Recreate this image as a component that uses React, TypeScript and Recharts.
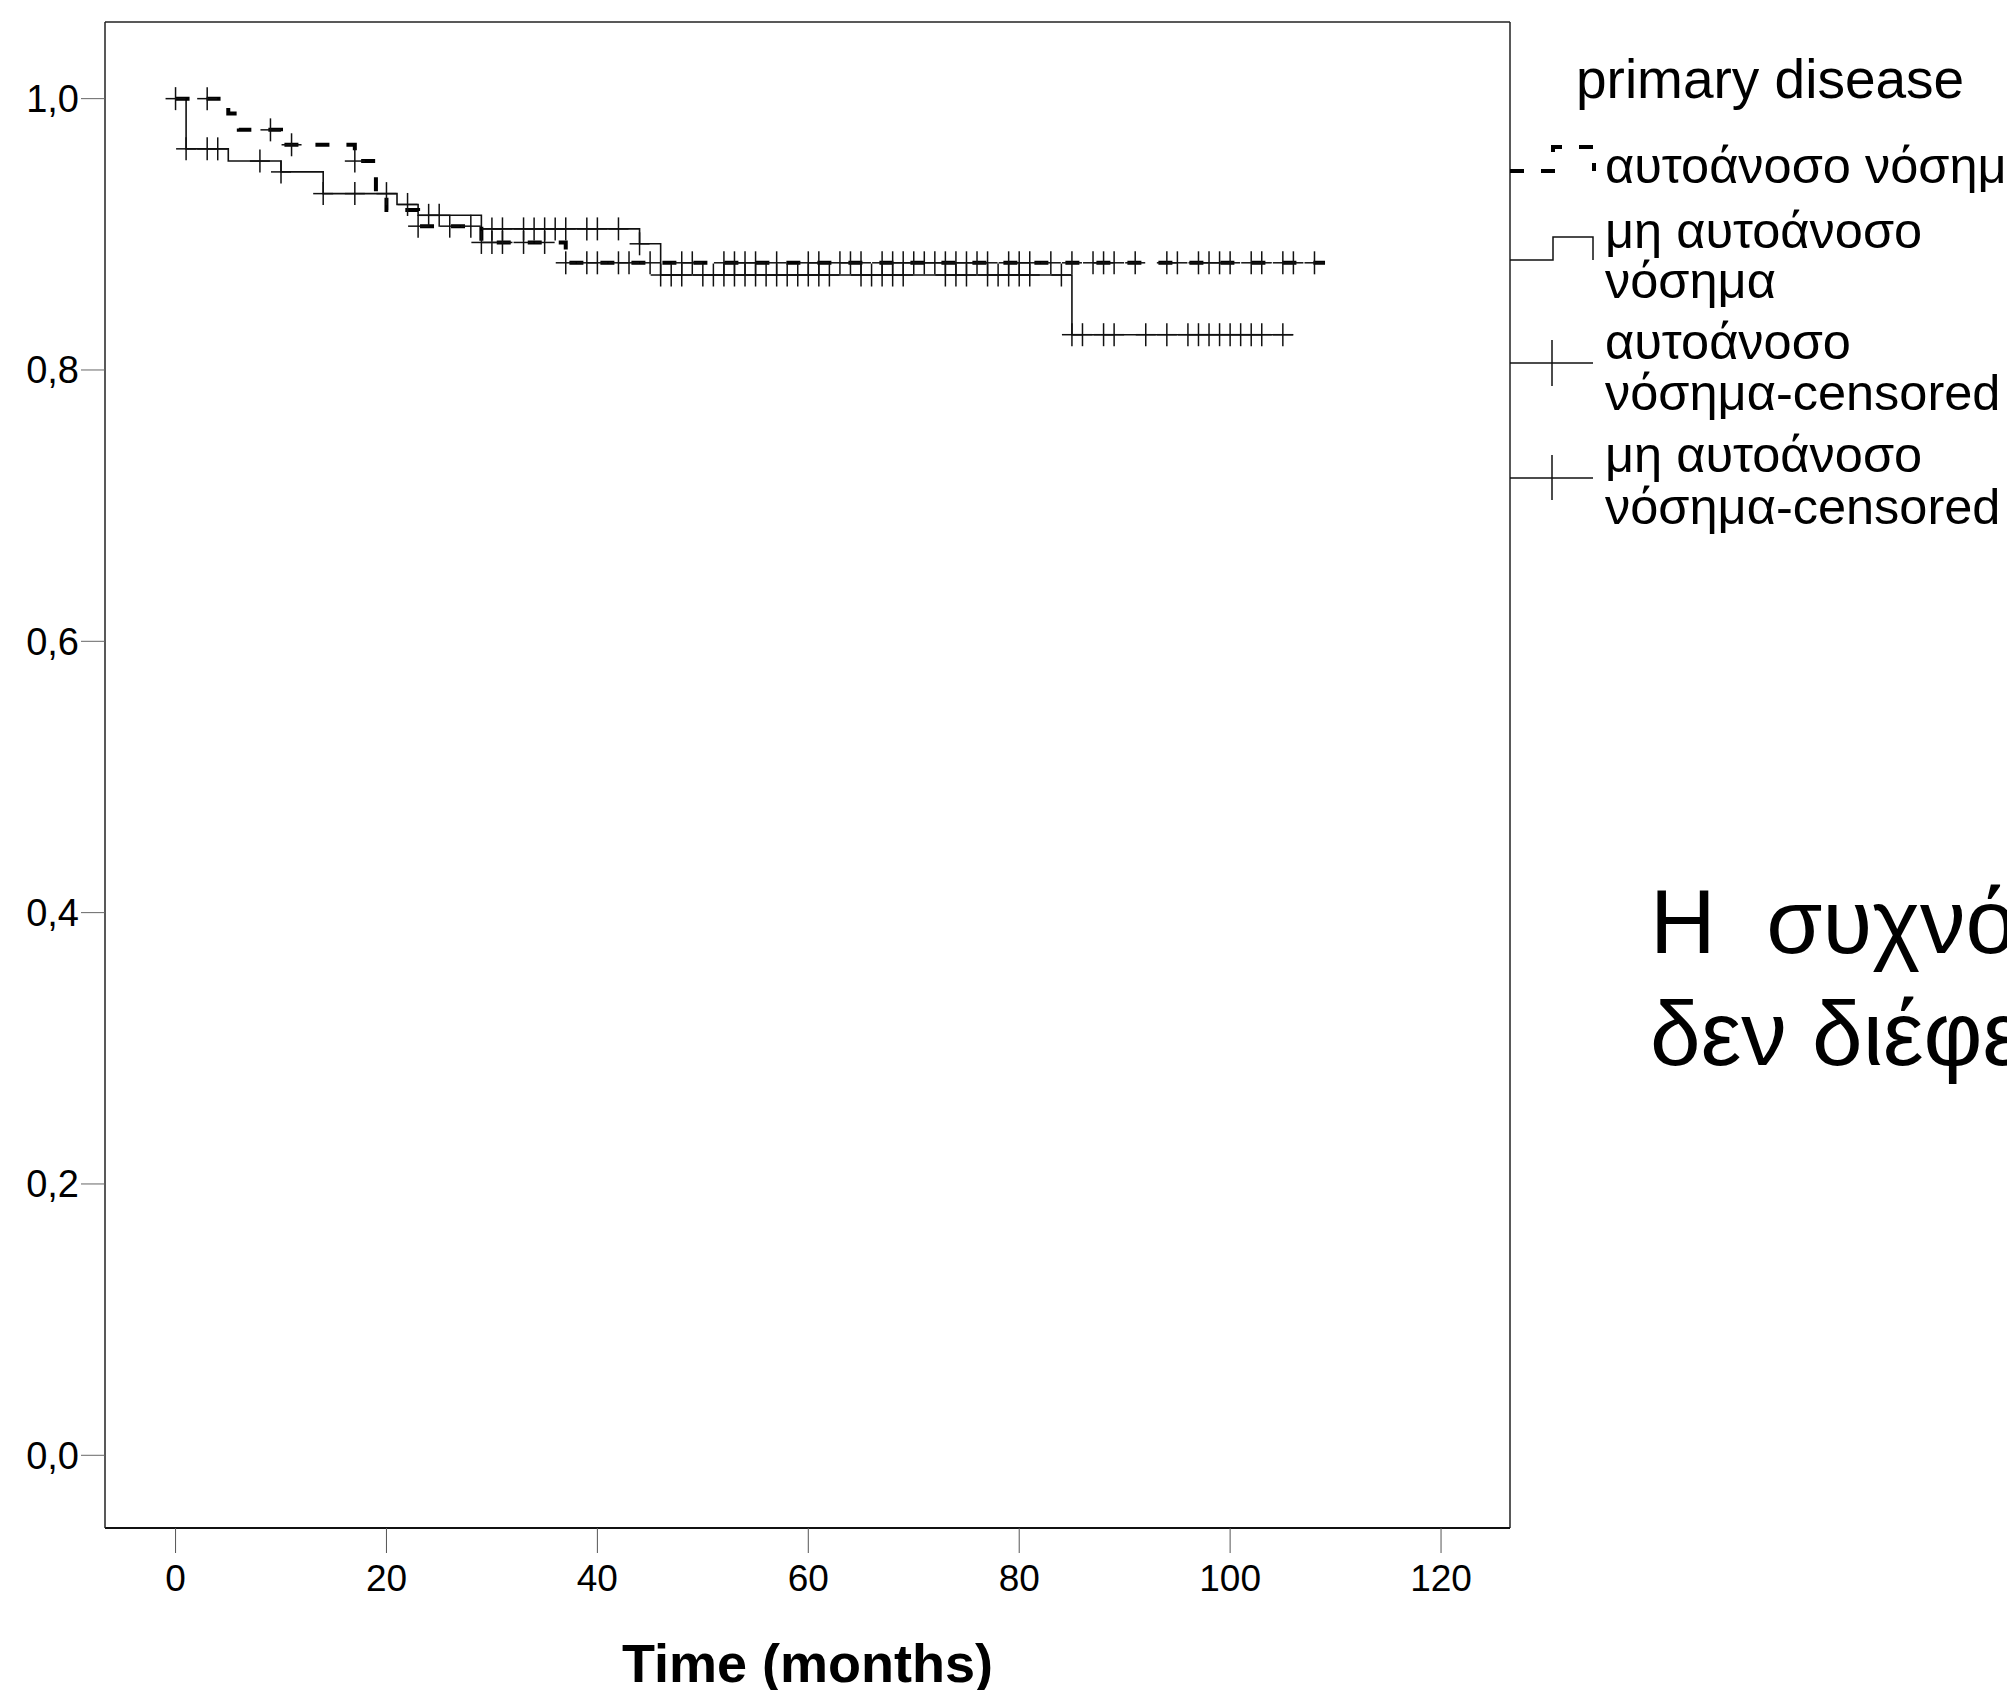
import React from "react";
import { ComposedChart, Line, Scatter, XAxis, YAxis, ReferenceLine } from "recharts";

// Kaplan-Meier steps, autoimmune disease (dashed)
const autoTimes = [0, 5, 6, 10, 17, 19, 20, 23, 29, 37, 109];
const autoSurv = [1.0, 0.989, 0.977, 0.966, 0.954, 0.93, 0.918, 0.906, 0.894, 0.879, 0.879];
const autoCensored = [
  0, 3, 9, 11, 17, 23, 26, 28, 29, 30, 31, 33, 35, 37, 39, 40, 42, 43, 45, 48, 49, 52, 53, 54,
  55, 57, 60, 61, 63, 64, 65, 67, 68, 69, 70, 71, 72, 73, 74, 75, 76, 77, 79, 80, 81, 83, 85,
  87, 88, 89, 91, 94, 95, 97, 98, 99, 100, 102, 103, 105, 106, 108,
];

// non-autoimmune disease (solid)
const nonTimes = [0, 1, 5, 10, 14, 21, 23, 29, 44, 46, 85, 106];
const nonSurv = [1.0, 0.963, 0.954, 0.946, 0.93, 0.922, 0.914, 0.904, 0.893, 0.87, 0.826, 0.826];
const nonCensored = [
  1, 3, 4, 8, 10, 14, 17, 20, 22, 24, 25, 30, 31, 33, 34, 35, 36, 37, 39, 40, 42, 44, 46, 47,
  48, 50, 51, 52, 53, 54, 55, 56, 57, 58, 59, 60, 61, 62, 65, 66, 67, 68, 69, 73, 74, 75, 77,
  78, 79, 80, 81, 84, 85, 86, 88, 89, 92, 94, 96, 97, 98, 99, 100, 101, 102, 103, 105,
];

const xTicks = [0, 20, 40, 60, 80, 100, 120];
const yTicks = [0, 0.2, 0.4, 0.6, 0.8, 1.0];
const xDomain = [-6.69, 126.54];
const yDomain = [-0.0536, 1.0565];

const legendTitle = "primary disease";
const legendItems = [
  ["αυτοάνοσο νόσημα"],
  ["μη αυτοάνοσο", "νόσημα"],
  ["αυτοάνοσο", "νόσημα-censored"],
  ["μη αυτοάνοσο", "νόσημα-censored"],
];
const noteLines = ["Η  συχνότητα", "δεν διέφερε"];

const FONT = '"Liberation Sans", Arial, sans-serif';

function survAt(times: number[], surv: number[], t: number) {
  let v = surv[0];
  for (let i = 0; i < times.length; i++) if (times[i] <= t) v = surv[i];
  return v;
}

const autoData = autoTimes.map((t, i) => ({ t, s: autoSurv[i] }));
const nonData = nonTimes.map((t, i) => ({ t, s: nonSurv[i] }));
const autoCens = autoCensored.map((t) => ({ t, s: survAt(autoTimes, autoSurv, t) }));
const nonCens = nonCensored.map((t) => ({ t, s: survAt(nonTimes, nonSurv, t) }));

const Cross = (props: any) => {
  const { cx, cy } = props;
  if (cx == null || cy == null) return null;
  return (
    <g stroke="#111" strokeWidth={1.5}>
      <line x1={cx - 10} x2={cx + 10} y1={cy} y2={cy} />
      <line x1={cx} x2={cx} y1={cy - 11.5} y2={cy + 11.5} />
    </g>
  );
};

function LegendOverlay() {
  const baselines = [[183], [248, 298], [359, 410], [472, 524]];
  return (
    <svg
      width={2007}
      height={1690}
      style={{ position: "absolute", left: 0, top: 0, pointerEvents: "none" }}
      fontFamily={FONT}
    >
      <text x={1576} y={98} fontSize={55} fill="#000">
        {legendTitle}
      </text>
      <path d="M1510,171 H1553 V147 H1594 V171" fill="none" stroke="#000" strokeWidth={4} strokeDasharray="14 17" />
      <path d="M1510,260 H1553 V237 H1593 V260" fill="none" stroke="#111" strokeWidth={1.5} />
      <g stroke="#111" strokeWidth={1.5}>
        <line x1={1510} x2={1593} y1={363} y2={363} />
        <line x1={1552} x2={1552} y1={340} y2={386} />
        <line x1={1510} x2={1593} y1={478} y2={478} />
        <line x1={1552} x2={1552} y1={455} y2={500} />
      </g>
      {legendItems.map((lines, i) =>
        lines.map((ln, j) => (
          <text key={`${i}-${j}`} x={1605} y={baselines[i][j]} fontSize={50.5} fill="#000">
            {ln}
          </text>
        ))
      )}
      {noteLines.map((ln, i) => (
        <text key={ln} x={1650} y={953 + i * 112} fontSize={91} fill="#000" style={{ whiteSpace: "pre" }}>
          {ln}
        </text>
      ))}
    </svg>
  );
}

export default function App() {
  return (
    <div
      style={{
        position: "absolute",
        left: 0,
        top: 0,
        width: 2007,
        height: 1690,
        overflow: "hidden",
        background: "#fff",
        fontFamily: FONT,
      }}
    >
      <ComposedChart width={2007} height={1690} margin={{ top: 22, right: 497, bottom: 0, left: 0 }}>
        <XAxis
          dataKey="t"
          type="number"
          domain={xDomain}
          allowDataOverflow
          ticks={xTicks}
          tickSize={25}
          tickMargin={12}
          height={162}
          axisLine={{ stroke: "#111", strokeWidth: 2 }}
          tickLine={{ stroke: "#555", strokeWidth: 1 }}
          tick={{ fontSize: 37, fill: "#000" }}
          label={{
            value: "Time (months)",
            position: "insideBottom",
            offset: 8,
            fontSize: 54,
            fontWeight: 700,
            fill: "#000",
          }}
        />
        <YAxis
          dataKey="s"
          type="number"
          domain={yDomain}
          allowDataOverflow
          ticks={yTicks}
          tickFormatter={(v: number) => v.toFixed(1).replace(".", ",")}
          tickSize={24}
          tickMargin={2}
          width={105}
          axisLine={{ stroke: "#222", strokeWidth: 1.5 }}
          tickLine={{ stroke: "#666", strokeWidth: 1 }}
          tick={{ fontSize: 38, fill: "#000" }}
        />
        <ReferenceLine y={yDomain[1]} stroke="#222" strokeWidth={1.5} ifOverflow="visible" />
        <ReferenceLine x={xDomain[1]} stroke="#222" strokeWidth={1.5} ifOverflow="visible" />
        <Line
          data={nonData}
          dataKey="s"
          type="stepAfter"
          stroke="#111"
          strokeWidth={1.6}
          dot={false}
          isAnimationActive={false}
        />
        <Line
          data={autoData}
          dataKey="s"
          type="stepAfter"
          stroke="#000"
          strokeWidth={4}
          strokeDasharray="14 17"
          dot={false}
          isAnimationActive={false}
        />
        <Scatter data={nonCens} dataKey="s" shape={Cross} isAnimationActive={false} />
        <Scatter data={autoCens} dataKey="s" shape={Cross} isAnimationActive={false} />
      </ComposedChart>
      <LegendOverlay />
    </div>
  );
}
